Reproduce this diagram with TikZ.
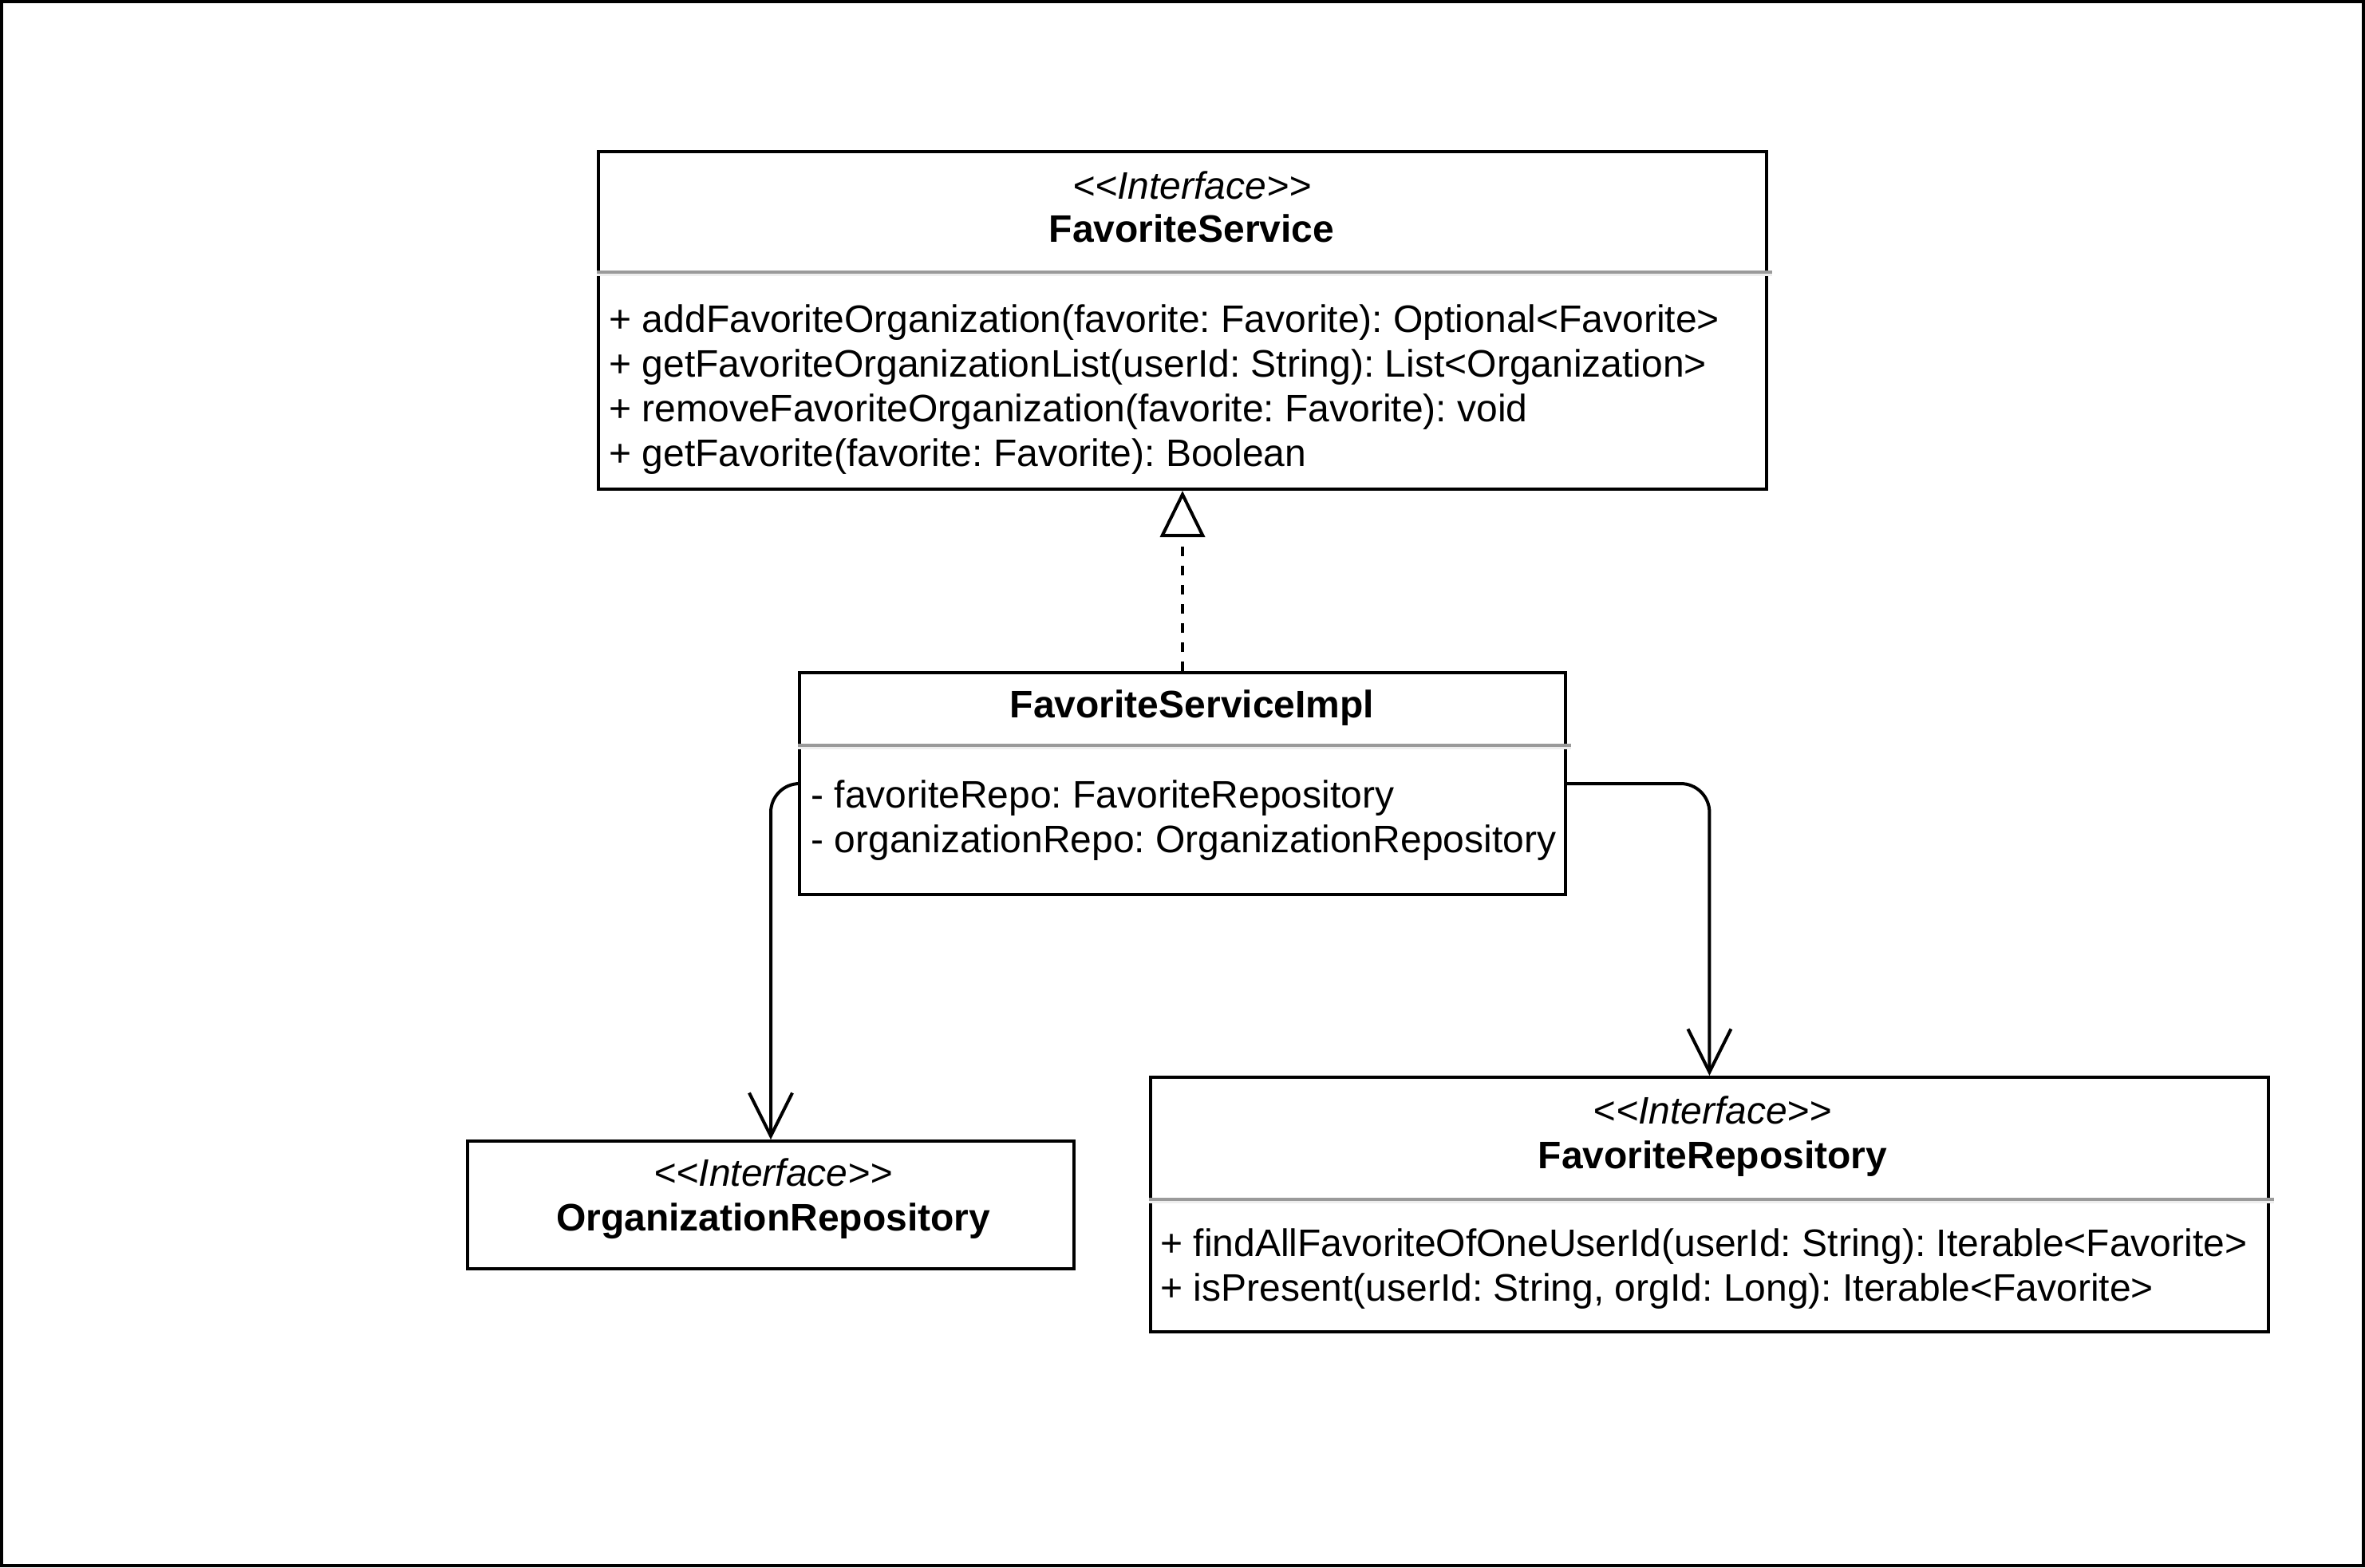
\documentclass[tikz,border=0pt]{standalone}
\usepackage{fontspec}
\setmainfont{Liberation Sans}
\usetikzlibrary{arrows.meta}
\definecolor{sepgray}{HTML}{9A9A9A}
\definecolor{seplight}{HTML}{EEEEEE}
\frenchspacing
\newcommand{\stereotype}[1]{{<}{<}#1{>}{>}}
\begin{document}
\begin{tikzpicture}[x=1pt,y=-1pt,
  every node/.style={font=\fontsize{12pt}{14pt}\selectfont, inner sep=0pt},
  classbox/.style={draw, line width=1pt, fill=white, rectangle},
  stereo/.style={anchor=base, font=\fontsize{12pt}{14pt}\selectfont\itshape},
  cname/.style={anchor=base, font=\fontsize{12pt}{14pt}\selectfont\bfseries},
  member/.style={anchor=base west},
  sepdark/.style={draw=sepgray, line width=0.9pt},
  seplite/.style={draw=seplight, line width=0.9pt},
  assoc/.style={line width=1pt, -{Straight Barb[length=13.5pt,width=13.5pt,line width=1pt]}},
  realize/.style={line width=1pt, dash pattern=on 3pt off 3pt,
    -{Triangle[open, length=14.5pt, width=14pt, line width=1pt]}}]

% page frame
\useasboundingbox (0,0) rectangle (741,491);
\draw[line width=1pt] (0.5,0.5) rectangle (740.5,490.5);

% class boxes
\node[classbox, minimum width=366pt, minimum height=105.75pt] (fs) at (370.5,100.375) {};
\node[classbox, minimum width=240pt, minimum height=69.5pt] (impl) at (370.5,245.5) {};
\node[classbox, minimum width=190pt, minimum height=40pt] (org) at (241.5,377.5) {};
\node[classbox, minimum width=350.25pt, minimum height=79.75pt] (frepo) at (535.6,377.375) {};

% compartment separators
\draw[sepdark] ([yshift=-38.25pt]fs.north west) -- ([yshift=-38.25pt,xshift=1.2pt]fs.north east);
\draw[seplite] ([yshift=-39.15pt]fs.north west) -- ([yshift=-39.15pt,xshift=1.2pt]fs.north east);
\draw[sepdark] ([yshift=-23.25pt]impl.north west) -- ([yshift=-23.25pt,xshift=1.2pt]impl.north east);
\draw[seplite] ([yshift=-24.15pt]impl.north west) -- ([yshift=-24.15pt,xshift=1.2pt]impl.north east);
\draw[sepdark] ([yshift=-38.75pt]frepo.north west) -- ([yshift=-38.75pt,xshift=1.2pt]frepo.north east);
\draw[seplite] ([yshift=-39.65pt]frepo.north west) -- ([yshift=-39.65pt,xshift=1.2pt]frepo.north east);

% FavoriteService
\node[stereo] (fs-st) at (373.4,62.3) {\stereotype{Interface}};
\node[cname] (fs-name) at (373.4,75.9) {FavoriteService};
\node[member] (fs-m1) at (190.7,104) {+ addFavoriteOrganization(favorite: Favorite): Optional<Favorite>};
\node[member] (fs-m2) at (190.7,118) {+ getFavoriteOrganizationList(userId: String): List<Organization>};
\node[member] (fs-m3) at (190.7,132) {+ removeFavoriteOrganization(favorite: Favorite): void};
\node[member] (fs-m4) at (190.7,146) {+ getFavorite(favorite: Favorite): Boolean};

% FavoriteServiceImpl
\node[cname] (impl-name) at (373.5,224.8) {FavoriteServiceImpl};
\node[member] (impl-a1) at (253.9,253) {- favoriteRepo: FavoriteRepository};
\node[member] (impl-a2) at (253.9,267) {- organizationRepo: OrganizationRepository};

% OrganizationRepository
\node[stereo] (org-st) at (242.3,371.5) {\stereotype{Interface}};
\node[cname] (org-name) at (242.3,385.5) {OrganizationRepository};

% FavoriteRepository
\node[stereo] (frepo-st) at (536.6,352.2) {\stereotype{Interface}};
\node[cname] (frepo-name) at (536.6,366.1) {FavoriteRepository};
\node[member] (frepo-m1) at (363.4,393.5) {+ findAllFavoriteOfOneUserId(userId: String): Iterable<Favorite>};
\node[member] (frepo-m2) at (363.4,407.5) {+ isPresent(userId: String, orgId: Long): Iterable<Favorite>};

% relations
\draw[realize] (impl.north) -- (fs.south);
\draw[assoc] (impl.west) [rounded corners=9pt] -| (org.north);
\draw[assoc] (impl.east) [rounded corners=9pt] -| (frepo.north);
\end{tikzpicture}
\end{document}
